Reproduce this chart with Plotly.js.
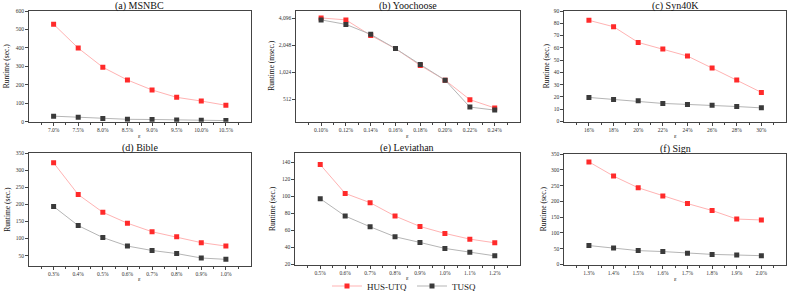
<!DOCTYPE html>
<html>
<head>
<meta charset="utf-8">
<script src="https://cdn.plot.ly/plotly-3.0.1.min.js"></script>
<style>html,body{margin:0;padding:0;background:#fff;}#chart{width:789px;height:291px;}</style>
</head>
<body>
<div id="chart"></div>
<script>
// ---- data ----
const seriesNames = ['HUS-UTQ', 'TUSQ'];

const titleA = '(a) MSNBC';
const catsA = ['7.0%', '7.5%', '8.0%', '8.5%', '9.0%', '9.5%', '10.0%', '10.5%'];
const husA = [528, 399, 295, 226, 172, 132, 112, 89];
const tusqA = [30, 24, 18, 13, 12, 9, 8, 6];

const titleB = '(b) Yoochoose';
const catsB = ['0.10%', '0.12%', '0.14%', '0.16%', '0.18%', '0.20%', '0.22%', '0.24%'];
const husB = [4130, 3930, 2640, 1880, 1220, 837, 507, 410];
const tusqB = [3930, 3500, 2710, 1880, 1250, 837, 419, 388];
const tickValsB = [512, 1024, 2048, 4096];
const tickTextB = ['512', '1,024', '2,048', '4,096'];

const titleC = '(c) Syn40K';
const catsC = ['16%', '18%', '20%', '22%', '24%', '26%', '28%', '30%'];
const husC = [82.4, 77.2, 64.4, 59.0, 53.3, 43.5, 33.7, 23.7];
const tusqC = [19.6, 17.9, 16.8, 14.7, 13.9, 13.3, 12.2, 11.1];

const titleD = '(d) Bible';
const catsD = ['0.3%', '0.4%', '0.5%', '0.6%', '0.7%', '0.8%', '0.9%', '1.0%'];
const husD = [322, 229, 177, 145, 120, 105, 88, 78];
const tusqD = [194, 138, 103, 78, 65, 56, 43, 39];

const titleE = '(e) Leviathan';
const catsE = ['0.5%', '0.6%', '0.7%', '0.8%', '0.9%', '1.0%', '1.1%', '1.2%'];
const husE = [137.3, 103.5, 92.6, 76.9, 64.7, 56.5, 49.8, 45.5];
const tusqE = [97.3, 76.9, 64.3, 52.6, 45.9, 38.9, 34.5, 30.2];

const titleF = '(f) Sign';
const catsF = ['1.3%', '1.4%', '1.5%', '1.6%', '1.7%', '1.8%', '1.9%', '2.0%'];
const husF = [325, 280, 243, 217, 193, 171, 144, 141];
const tusqF = [60, 52, 44, 41, 36, 32, 30, 28];

const yTitles = ['Runtime (sec.)', 'Runtime (msec.)', 'Runtime (sec.)', 'Runtime (sec.)', 'Runtime (sec.)', 'Runtime (sec.)'];
const xTitle = 'ε';

// ---- build ----
const W = 789, H = 291;
const FONT = 'Liberation Serif, Times New Roman, serif';
const redM = '#ff2a2a', redL = '#ffb3b3', blkM = '#3a3a3a', blkL = '#b5b5b5';

const panels = [
  {title: titleA, cats: catsA, hus: husA, tusq: tusqA, x0: 29, x1: 250.5, y0: 11, y1: 121.7, range: [0, 600], dtick: 100, yt: 6, xt: 135.5},
  {title: titleB, cats: catsB, hus: husB, tusq: tusqB, x0: 296.3, x1: 519.5, y0: 11, y1: 121.7, log: true, range: [Math.log10(288), Math.log10(4936)], yt: 271.5, xt: 135.5},
  {title: titleC, cats: catsC, hus: husC, tusq: tusqC, x0: 564.3, x1: 786, y0: 11, y1: 121.5, range: [0, 90], dtick: 10, yt: 546, xt: 135.5},
  {title: titleD, cats: catsD, hus: husD, tusq: tusqD, x0: 29, x1: 250.5, y0: 153.3, y1: 265.5, range: [21, 350], tickvals: [50,100,150,200,250,300,350], yt: 7.3, xt: 279},
  {title: titleE, cats: catsE, hus: husE, tusq: tusqE, x0: 295.3, x1: 519.7, y0: 153.3, y1: 264.5, range: [20, 150.6], tickvals: [20,40,60,80,100,120,140], yt: 273, xt: 278},
  {title: titleF, cats: catsF, hus: husF, tusq: tusqF, x0: 564.3, x1: 786, y0: 154, y1: 264.5, range: [0, 350], dtick: 50, yt: 543, xt: 279}
];

const data = [];
const layout = {
  width: W, height: H,
  margin: {l: 0, r: 0, t: 0, b: 0, autoexpand: false},
  paper_bgcolor: '#fff', plot_bgcolor: '#fff',
  font: {family: FONT, color: '#222', size: 6},
  showlegend: true,
  legend: {orientation: 'h', x: 404 / W, xanchor: 'center', y: 1 - 286/H, yanchor: 'middle',
           font: {family: FONT, size: 9, color: '#222'}, itemwidth: 30, tracegroupgap: 0, bgcolor: 'rgba(0,0,0,0)'},
  annotations: []
};

panels.forEach((p, i) => {
  const n = i + 1;
  const xa = 'x' + (n === 1 ? '' : n), ya = 'y' + (n === 1 ? '' : n);
  const xs = p.cats.map((c, k) => k);
  data.push({x: xs, y: p.hus, xaxis: xa, yaxis: ya, type: 'scatter', mode: 'lines+markers', name: seriesNames[0],
             legendgroup: 'h', showlegend: i === 0,
             line: {color: redL, width: 1}, marker: {symbol: 'square', size: 5, color: redM}});
  data.push({x: xs, y: p.tusq, xaxis: xa, yaxis: ya, type: 'scatter', mode: 'lines+markers', name: seriesNames[1],
             legendgroup: 't', showlegend: i === 0,
             line: {color: blkL, width: 1}, marker: {symbol: 'square', size: 5, color: blkM}});
  const xkey = 'xaxis' + (n === 1 ? '' : n), ykey = 'yaxis' + (n === 1 ? '' : n);
  layout[xkey] = {
    domain: [p.x0 / W, p.x1 / W], anchor: ya, range: [-1, 8],
    tickmode: 'array', tickvals: xs, ticktext: p.cats,
    ticks: 'outside', ticklen: 3, tickwidth: 1, tickcolor: '#444',
    minor: {tickmode: 'array', tickvals: xs.map(v => v - 0.5).concat([7.5]), ticks: 'outside', ticklen: 2, tickcolor: '#444'},
    showline: true, linecolor: '#444', linewidth: 1, mirror: true,
    showgrid: false, zeroline: false, fixedrange: true, automargin: false,
    tickfont: {family: FONT, size: 5.5, color: '#333'}
  };
  const yax = {
    domain: [1 - p.y1 / H, 1 - p.y0 / H], anchor: xa, range: p.range,
    ticks: 'outside', ticklen: 3, tickwidth: 1, tickcolor: '#444',
    showline: true, linecolor: '#444', linewidth: 1, mirror: true,
    showgrid: false, zeroline: false, fixedrange: true, automargin: false,
    tickfont: {family: FONT, size: 5.5, color: '#333'}
  };
  if (p.log) {
    yax.type = 'log'; yax.tickmode = 'array'; yax.tickvals = tickValsB; yax.ticktext = tickTextB;
  } else if (p.tickvals) {
    yax.tickmode = 'array'; yax.tickvals = p.tickvals;
  } else {
    yax.tickmode = 'linear'; yax.tick0 = 0; yax.dtick = p.dtick;
  }
  layout[ykey] = yax;
  const cx = (p.x0 + p.x1) / 2 / W;
  layout.annotations.push({text: p.title, xref: 'paper', yref: 'paper', x: cx, y: 1 - (p.y0 - 5) / H,
    xanchor: 'center', yanchor: 'middle', showarrow: false, font: {family: FONT, size: 10, color: '#111'}});
  layout.annotations.push({text: yTitles[i], xref: 'paper', yref: 'paper', x: p.yt / W, y: 1 - ((p.y0 + p.y1) / 2) / H,
    xanchor: 'center', yanchor: 'middle', textangle: -90, showarrow: false, font: {family: FONT, size: 7.5, color: '#111'}});
  layout.annotations.push({text: xTitle, xref: 'paper', yref: 'paper', x: cx, y: 1 - p.xt / H,
    xanchor: 'center', yanchor: 'middle', showarrow: false, font: {family: FONT, size: 6, color: '#111'}});
});

Plotly.newPlot('chart', data, layout, {displayModeBar: false, staticPlot: true});
</script>
</body>
</html>
